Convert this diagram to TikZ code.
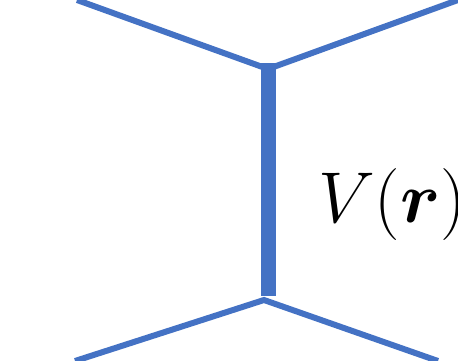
\RequirePackage{fix-cm}
\documentclass[tikz,border=0pt]{standalone}
\usepackage{amsmath}
\usepackage{bm}
\definecolor{lineblue}{HTML}{4472C4}
\begin{document}
\begin{tikzpicture}[x=1pt,y=-1pt,
  thinline/.style={draw=lineblue,line width=6pt,line join=miter},
  thickline/.style={draw=lineblue,line width=15pt,line cap=butt},
  label/.style={anchor=base west,inner sep=0pt,font=\fontsize{72}{72}\selectfont}]
\useasboundingbox (0,0) rectangle (458,361);
\coordinate (tl) at (77,0);
\coordinate (tj) at (268,69);
\coordinate (tr) at (458,0);
\coordinate (bl) at (75,361);
\coordinate (bj) at (264,300);
\coordinate (br) at (438,361);
\coordinate (vt) at (268.5,63);
\coordinate (vb) at (268.5,296);
\draw[thinline] (tl) -- (tj) -- (tr);
\draw[thinline] (bl) -- (bj) -- (br);
\draw[thickline] (vt) -- (vb);
\node[label] (v) at (318,222) {$V(\bm{r})$};
\end{tikzpicture}
\end{document}
